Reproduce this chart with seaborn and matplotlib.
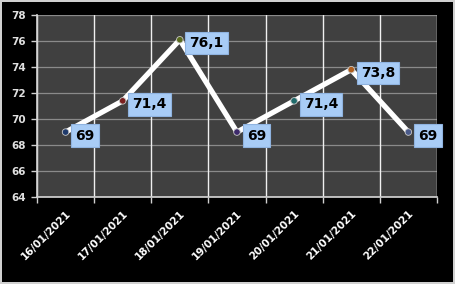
import matplotlib
matplotlib.use("Agg")
import matplotlib.pyplot as plt
import seaborn as sns
import pandas as pd
import numpy as np

dates = ["16/01/2021", "17/01/2021", "18/01/2021", "19/01/2021",
         "20/01/2021", "21/01/2021", "22/01/2021"]
values = [69, 71.4, 76.1, 69, 71.4, 73.8, 69]
labels = ["69", "71,4", "76,1", "69", "71,4", "73,8", "69"]
marker_colors = ["#1f3a6b", "#7a1f1f", "#5a6b1f", "#3d2a6b", "#1f6b6b", "#b0601f", "#4a5a8a"]
yticks = [64, 66, 68, 70, 72, 74, 76, 78]

sns.set_theme(style="dark")
plt.rcParams['font.family'] = ['DejaVu Sans']

df = pd.DataFrame({"date": dates, "value": values})
x = np.arange(len(dates))

fig = plt.figure(figsize=(4.55, 2.84), dpi=100, facecolor="black",
                 edgecolor="#d0d0d0", linewidth=1.5)
ax = fig.add_axes([0.0813, 0.306, 0.879, 0.641])
ax.set_facecolor("#404040")

sns.lineplot(x=x, y=df["value"], ax=ax, color="white", linewidth=3.8,
             solid_capstyle="round", zorder=3)
ax.scatter(x, values, s=22, c=marker_colors, edgecolors="#c8c8c8",
           linewidths=0.6, zorder=4)

for xi, v, lab in zip(x, values, labels):
    ax.annotate(lab, (xi, v), xytext=(7, -2.5), textcoords="offset points",
                ha="left", va="center", fontsize=10, fontweight="bold",
                color="black", zorder=5,
                bbox=dict(boxstyle="square,pad=0.3", facecolor="#a8ccf6",
                          edgecolor="#8fb3e0", linewidth=0.8))

ax.set_xlim(-0.5, len(dates) - 0.5)
ax.set_ylim(64, 78)
ax.set_yticks(yticks)
ax.set_yticklabels([str(t) for t in yticks], color="#e0e0e0",
                   fontsize=7.5, fontweight="bold")
ax.set_xticks(x)
ax.set_xticklabels(dates, rotation=45, ha="right", rotation_mode="anchor",
                   color="white", fontsize=7.5, fontweight="bold")
ax.set_xticks(np.arange(len(dates) + 1) - 0.5, minor=True)
ax.tick_params(axis="x", which="major", length=0, pad=8)
ax.tick_params(axis="x", which="minor", length=4, color="#d0d0d0", width=1,
               direction="out", bottom=True)
ax.tick_params(axis="y", length=4, color="#d0d0d0", width=1,
               direction="out", left=True, pad=4)

ax.grid(False)
for yt in yticks:
    ax.axhline(yt, color="#8a8a8a", linewidth=0.9, zorder=1)
for xb in np.arange(len(dates) + 1) - 0.5:
    ax.axvline(xb, color="#f0f0f0", linewidth=1.0, zorder=1)

for s in ["top", "right"]:
    ax.spines[s].set_visible(False)
ax.spines["left"].set_color("#d0d0d0")
ax.spines["bottom"].set_color("#d0d0d0")
ax.set_xlabel("")
ax.set_ylabel("")

fig.savefig("out.png", dpi=100, facecolor="black", edgecolor="#d0d0d0")
